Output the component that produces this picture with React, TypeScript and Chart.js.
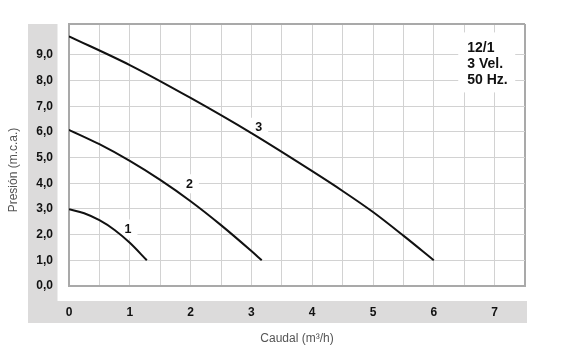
import React, { useEffect, useRef } from "react";
import { Chart, registerables } from "chart.js";

Chart.register(...registerables);

// ---- data ----
const xMin = 0;
const xMax = 7.5;
const yMin = 0;
const yMax = 10.2;

const xGridValues = [0, 0.5, 1, 1.5, 2, 2.5, 3, 3.5, 4, 4.5, 5, 5.5, 6, 6.5, 7, 7.5];
const xGridLabels = ["0", "", "1", "", "2", "", "3", "", "4", "", "5", "", "6", "", "7", ""];
const yGridValues = [0, 1, 2, 3, 4, 5, 6, 7, 8, 9];
const yGridLabels = ["0,0", "1,0", "2,0", "3,0", "4,0", "5,0", "6,0", "7,0", "8,0", "9,0"];

const curve1X = [0, 0.25, 0.5, 0.75, 1.0, 1.28];
const curve1Y = [2.99, 2.83, 2.56, 2.18, 1.68, 1.0];
const curve2X = [0, 0.5, 1.0, 1.5, 2.0, 2.5, 3.0, 3.17];
const curve2Y = [6.08, 5.52, 4.87, 4.13, 3.3, 2.37, 1.36, 1.0];
const curve3X = [0, 1.0, 2.0, 3.0, 4.0, 4.5, 5.0, 5.5, 6.0];
const curve3Y = [9.72, 8.6, 7.32, 5.95, 4.47, 3.7, 2.88, 1.96, 1.0];

const curveLabelNames = ["1", "2", "3"];
const curveLabelX = [0.97, 1.98, 3.12];
const curveLabelY = [2.22, 3.98, 6.18];

const noteLines = ["12/1", "3 Vel.", "50 Hz."];
const noteX = 6.55;
const noteY = 9.25;

const xTitle = "Caudal (m³/h)";
const yTitle = "Presión (m.c.a.)";

// ---- styles ----
const FONT = "'Liberation Sans', Arial, Helvetica, sans-serif";
const BAND = "#dcdbdb";
const GRID = "#d2d2d2";
const FRAME = "#a9a9a9";
const INK = "#111111";

const toPoints = (xs: number[], ys: number[]) => xs.map((x, i) => ({ x, y: ys[i] }));

const decor = {
  id: "decor",
  beforeDraw(chart: any) {
    const { ctx, chartArea } = chart;
    const { left, top, right, bottom } = chartArea;
    ctx.save();
    ctx.fillStyle = "#ffffff";
    ctx.fillRect(0, 0, chart.width, chart.height);
    ctx.fillStyle = BAND;
    ctx.fillRect(left - 41, top, 29.5, bottom + 37 - top);
    ctx.fillRect(left - 41, bottom + 15, right + 2 - (left - 41), 22);
    ctx.restore();
  },
  beforeDatasetsDraw(chart: any) {
    const { ctx } = chart;
    const xs = chart.scales.x;
    const ys = chart.scales.y;
    ctx.save();
    ctx.font = `bold 12.5px ${FONT}`;
    ctx.textAlign = "center";
    ctx.textBaseline = "middle";
    curveLabelNames.forEach((name, i) => {
      const px = xs.getPixelForValue(curveLabelX[i]);
      const py = ys.getPixelForValue(curveLabelY[i]);
      ctx.fillStyle = "#ffffff";
      ctx.fillRect(px - 9.5, py - 9.5, 19, 19);
      ctx.fillStyle = INK;
      ctx.fillText(name, px, py + 0.5);
    });
    const nx = xs.getPixelForValue(noteX);
    const ny = ys.getPixelForValue(noteY);
    ctx.fillStyle = "#ffffff";
    ctx.fillRect(nx - 9, ny - 16, 57, 60);
    ctx.fillStyle = INK;
    ctx.font = `bold 14px ${FONT}`;
    ctx.textAlign = "left";
    noteLines.forEach((line, i) => {
      ctx.fillText(line, nx, ny + i * 16);
    });
    ctx.restore();
  },
  afterDraw(chart: any) {
    const { ctx, chartArea } = chart;
    const { left, right, bottom } = chartArea;
    ctx.save();
    ctx.fillStyle = "#555555";
    ctx.font = `12px ${FONT}`;
    ctx.textAlign = "center";
    ctx.textBaseline = "middle";
    ctx.fillText(xTitle, (left + right) / 2, bottom + 53);
    ctx.translate(left - 55, 170);
    ctx.rotate(-Math.PI / 2);
    ctx.fillText(yTitle, 0, 0);
    ctx.restore();
  },
};

export default function App() {
  const ref = useRef<HTMLCanvasElement | null>(null);

  useEffect(() => {
    if (!ref.current) return;
    const lineDs = (xs: number[], ys: number[]) => ({
      data: toPoints(xs, ys),
      borderColor: INK,
      borderWidth: 2,
      pointRadius: 0,
      fill: false,
      showLine: true,
      cubicInterpolationMode: "monotone" as const,
    });
    const chart = new Chart(ref.current, {
      type: "scatter",
      data: {
        datasets: [lineDs(curve1X, curve1Y), lineDs(curve2X, curve2Y), lineDs(curve3X, curve3Y)],
      },
      options: {
        animation: false,
        responsive: true,
        maintainAspectRatio: false,
        layout: { padding: { left: 28, top: 24, right: 36, bottom: 0 } },
        plugins: { legend: { display: false }, tooltip: { enabled: false }, title: { display: false } },
        scales: {
          x: {
            type: "linear",
            min: xMin,
            max: xMax,
            afterBuildTicks: (s: any) => {
              s.ticks = xGridValues.map((v) => ({ value: v }));
            },
            afterFit: (s: any) => {
              s.height = 69;
            },
            ticks: {
              autoSkip: false,
              maxRotation: 0,
              padding: 19,
              color: INK,
              font: { family: FONT, size: 12, weight: "bold" },
              callback: (_v: any, i: number) => xGridLabels[i] ?? "",
            },
            grid: {
              drawTicks: false,
              color: (c: any) => {
                const v = c.tick ? c.tick.value : null;
                return v === xMin || v === xMax ? FRAME : GRID;
              },
              lineWidth: (c: any) => {
                const v = c.tick ? c.tick.value : null;
                return v === xMin || v === xMax ? 2 : 1;
              },
            },
            border: { color: FRAME, width: 2 },
          },
          y: {
            type: "linear",
            min: yMin,
            max: yMax,
            afterBuildTicks: (s: any) => {
              s.ticks = [...yGridValues, yMax].map((v) => ({ value: v }));
            },
            afterFit: (s: any) => {
              s.width = 41;
            },
            ticks: {
              autoSkip: false,
              padding: 16,
              color: INK,
              font: { family: FONT, size: 12, weight: "bold" },
              callback: (_v: any, i: number) => yGridLabels[i] ?? "",
            },
            grid: {
              drawTicks: false,
              color: (c: any) => {
                const v = c.tick ? c.tick.value : null;
                return v === yMin || v === yMax ? FRAME : GRID;
              },
              lineWidth: (c: any) => {
                const v = c.tick ? c.tick.value : null;
                return v === yMin || v === yMax ? 2 : 1;
              },
            },
            border: { color: FRAME, width: 2 },
          },
        },
      },
      plugins: [decor],
    });
    return () => chart.destroy();
  }, []);

  return (
    <div style={{ position: "fixed", left: 0, top: 0, width: 561, height: 355, background: "#fff" }}>
      <canvas ref={ref} />
    </div>
  );
}
